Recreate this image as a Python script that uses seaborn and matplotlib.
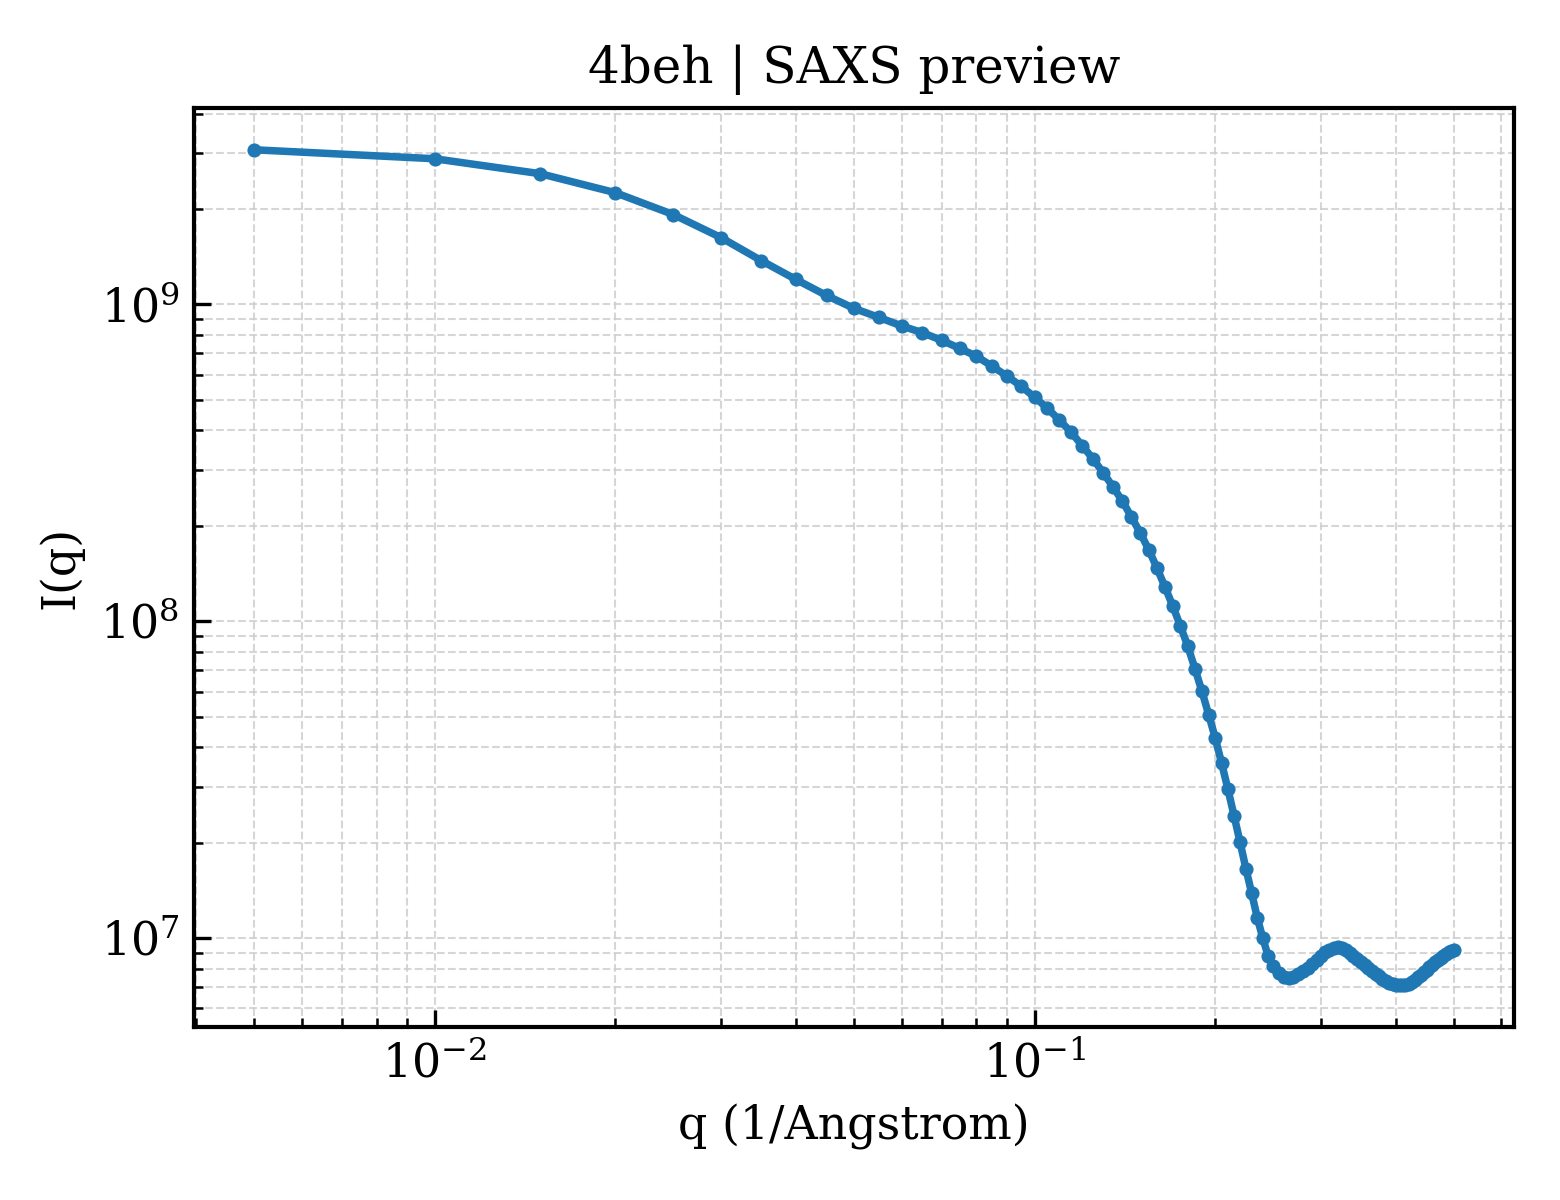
import numpy as np
import pandas as pd
import matplotlib
matplotlib.use("Agg")
import matplotlib.pyplot as plt
import seaborn as sns

# q grid (every 0.005 1/A)
q_values = [
    0.005, 0.010, 0.015, 0.020, 0.025, 0.030, 0.035, 0.040, 0.045, 0.050,
    0.055, 0.060, 0.065, 0.070, 0.075, 0.080, 0.085, 0.090, 0.095, 0.100,
    0.105, 0.110, 0.115, 0.120, 0.125, 0.130, 0.135, 0.140, 0.145, 0.150,
    0.155, 0.160, 0.165, 0.170, 0.175, 0.180, 0.185, 0.190, 0.195, 0.200,
    0.205, 0.210, 0.215, 0.220, 0.225, 0.230, 0.235, 0.240, 0.245, 0.250,
    0.255, 0.260, 0.265, 0.270, 0.275, 0.280, 0.285, 0.290, 0.295, 0.300,
    0.305, 0.310, 0.315, 0.320, 0.325, 0.330, 0.335, 0.340, 0.345, 0.350,
    0.355, 0.360, 0.365, 0.370, 0.375, 0.380, 0.385, 0.390, 0.395, 0.400,
    0.405, 0.410, 0.415, 0.420, 0.425, 0.430, 0.435, 0.440, 0.445, 0.450,
    0.455, 0.460, 0.465, 0.470, 0.475, 0.480, 0.485, 0.490, 0.495, 0.500,
]

# intensity
intensity = [
    3.077e9, 2.883e9, 2.586e9, 2.253e9, 1.921e9, 1.626e9, 1.376e9, 1.199e9, 1.067e9, 9.714e8,
    9.101e8, 8.555e8, 8.144e8, 7.701e8, 7.267e8, 6.858e8, 6.378e8, 5.933e8, 5.517e8, 5.094e8,
    4.704e8, 4.311e8, 3.953e8, 3.584e8, 3.262e8, 2.947e8, 2.662e8, 2.396e8, 2.134e8, 1.900e8,
    1.680e8, 1.469e8, 1.280e8, 1.115e8, 9.645e7, 8.344e7, 7.087e7, 6.020e7, 5.076e7, 4.280e7,
    3.558e7, 2.947e7, 2.431e7, 2.006e7, 1.655e7, 1.386e7, 1.160e7, 1.000e7, 8.777e6, 8.133e6,
    7.760e6, 7.538e6, 7.482e6, 7.538e6, 7.674e6, 7.844e6, 8.045e6, 8.282e6, 8.525e6, 8.777e6,
    9.002e6, 9.167e6, 9.301e6, 9.335e6, 9.267e6, 9.134e6, 8.969e6, 8.777e6, 8.588e6, 8.403e6,
    8.222e6, 8.045e6, 7.872e6, 7.702e6, 7.564e6, 7.427e6, 7.320e6, 7.214e6, 7.162e6, 7.112e6,
    7.086e6, 7.086e6, 7.112e6, 7.162e6, 7.240e6, 7.373e6, 7.509e6, 7.647e6, 7.786e6, 7.929e6,
    8.074e6, 8.222e6, 8.372e6, 8.525e6, 8.650e6, 8.777e6, 8.906e6, 9.002e6, 9.101e6, 9.167e6,
]

df = pd.DataFrame({"q": q_values, "I": intensity})

sns.set_theme(style="white")
plt.rcParams["font.family"] = ["DejaVu Serif"]
plt.rcParams["mathtext.fontset"] = "dejavuserif"
plt.rcParams["text.color"] = "black"
plt.rcParams["axes.labelcolor"] = "black"
plt.rcParams["xtick.color"] = "black"
plt.rcParams["ytick.color"] = "black"

fig, ax = plt.subplots(figsize=(5.2, 4), dpi=300)
fig.subplots_adjust(left=0.1244, right=0.9705, top=0.91, bottom=0.144)

sns.lineplot(data=df, x="q", y="I", ax=ax, color="#1f77b4", linewidth=1.8,
             marker="o", markersize=3.4, markeredgewidth=0)

ax.set_xscale("log")
ax.set_yscale("log")
ax.margins(0.05)

ax.set_title("4beh | SAXS preview", fontsize=12, color="black")
ax.set_xlabel("q (1/Angstrom)", fontsize=11)
ax.set_ylabel("I(q)", fontsize=11)

ax.grid(True, which="both", linestyle="--", linewidth=0.5, color="#cccccc", alpha=0.8)
ax.tick_params(which="both", direction="in", bottom=True, left=True,
               top=False, right=False, labelsize=11, colors="black")
ax.tick_params(which="major", length=4, width=0.8)
ax.tick_params(which="minor", length=2.2, width=0.6)
for side in ax.spines.values():
    side.set_color("black")
    side.set_linewidth(1.0)

fig.savefig("out.png", dpi=300)
